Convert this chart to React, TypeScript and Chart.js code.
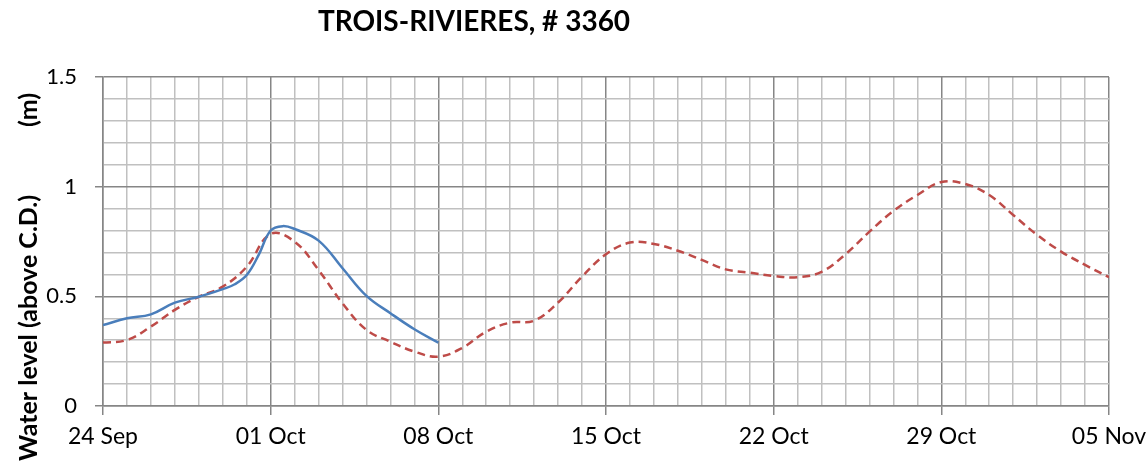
import { useEffect, useRef } from "react";
import { Chart, registerables } from "chart.js";

Chart.register(...registerables);

const titleText = "TROIS-RIVIERES, # 3360";
const yTitleMain = "Water level (above C.D.)";
const yTitleUnit = "(m)";
const xTickLabels = ["24 Sep", "01 Oct", "08 Oct", "15 Oct", "22 Oct", "29 Oct", "05 Nov"];
const yTickLabels = ["0", "0.5", "1", "1.5"];

// days since 24 Sep
const observedDays = [0, 1, 2, 3, 4, 5, 5.5, 6, 6.5, 7, 7.5, 8, 9, 10, 11, 12, 13, 14];
const observedLevels = [0.369, 0.4, 0.418, 0.471, 0.498, 0.533, 0.555, 0.597, 0.689, 0.8, 0.82, 0.807, 0.754, 0.628, 0.502, 0.423, 0.35, 0.289];

const predictedDays = [0, 1, 2, 3, 4, 5, 6, 7, 8, 9, 10, 11, 12, 13, 14, 15, 16, 17, 18, 19, 20, 21, 22, 23, 24, 25, 26, 27, 28, 29, 30, 31, 32, 33, 34, 35, 36, 37, 38, 39, 40, 41, 42];
const predictedLevels = [0.289, 0.301, 0.362, 0.438, 0.498, 0.544, 0.635, 0.784, 0.749, 0.62, 0.468, 0.347, 0.293, 0.248, 0.225, 0.265, 0.339, 0.38, 0.389, 0.472, 0.59, 0.692, 0.745, 0.739, 0.708, 0.666, 0.623, 0.608, 0.593, 0.587, 0.612, 0.692, 0.795, 0.889, 0.962, 1.021, 1.012, 0.962, 0.871, 0.78, 0.704, 0.643, 0.587];

const FONT = "Lato";
const MAJOR = "#868686";
const MINOR = "#C0C0C0";

const textPlugin = {
  id: "textPlugin",
  afterDraw(chart: any) {
    const ctx = chart.ctx;
    ctx.save();
    ctx.fillStyle = "#000";
    ctx.font = `bold 28px ${FONT}`;
    ctx.textAlign = "center";
    ctx.textBaseline = "alphabetic";
    ctx.fillText(titleText, 474, 31);
    ctx.translate(37, 0);
    ctx.rotate(-Math.PI / 2);
    ctx.textAlign = "left";
    ctx.font = `bold 25px ${FONT}`;
    ctx.fillText(yTitleMain, -461, 0);
    ctx.fillText(yTitleUnit, -127, 0);
    ctx.restore();
  },
};

const isMajorX = (v: number) => Math.round(v) % 7 === 0;
const isMajorY = (v: number) => Math.round(v * 10) % 5 === 0;

export default function App() {
  const ref = useRef<HTMLCanvasElement>(null);
  useEffect(() => {
    if (!ref.current) return;
    const chart = new Chart(ref.current, {
      type: "line",
      data: {
        datasets: [
          {
            label: "Observed",
            data: observedDays.map((d, i) => ({ x: d, y: observedLevels[i] })),
            borderColor: "#4A7EBB",
            borderWidth: 2.5,
            pointRadius: 0,
            tension: 0.4,
            fill: false,
          },
          {
            label: "Predicted",
            data: predictedDays.map((d, i) => ({ x: d, y: predictedLevels[i] })),
            borderColor: "#BE4B48",
            borderWidth: 2.5,
            borderDash: [8, 5],
            pointRadius: 0,
            tension: 0.4,
            fill: false,
          },
        ],
      },
      options: {
        responsive: false,
        animation: false,
        events: [],
        layout: { padding: { top: 77, right: 39, left: 0, bottom: 0 } },
        plugins: { legend: { display: false }, title: { display: false }, tooltip: { enabled: false } },
        scales: {
          x: {
            type: "linear",
            min: 0,
            max: 42,
            afterFit: (s: any) => {
              s.height = 55;
              s.paddingLeft = 0;
              s.paddingRight = 0;
            },
            ticks: {
              stepSize: 1,
              autoSkip: false,
              maxRotation: 0,
              minRotation: 0,
              maxTicksLimit: 100,
              padding: 8,
              color: "#000",
              font: { family: FONT, size: 23 },
              callback: (v: any) => (isMajorX(v) ? xTickLabels[Math.round(v) / 7] : ""),
            },
            grid: {
              color: (c: any) => (c.tick && isMajorX(c.tick.value) ? MAJOR : MINOR),
              lineWidth: 1.5,
              tickLength: 9,
              tickColor: (c: any) => (c.tick && isMajorX(c.tick.value) ? MAJOR : "rgba(0,0,0,0)"),
            },
            border: { color: MAJOR, width: 1.5 },
          },
          y: {
            type: "linear",
            min: 0,
            max: 1.5,
            afterFit: (s: any) => {
              s.width = 103;
              s.paddingTop = 0;
              s.paddingBottom = 0;
            },
            ticks: {
              stepSize: 0.1,
              autoSkip: false,
              maxTicksLimit: 100,
              padding: 18,
              color: "#000",
              font: { family: FONT, size: 22 },
              callback: (v: any) => (isMajorY(v) ? yTickLabels[Math.round(v * 2)] : ""),
            },
            grid: {
              color: (c: any) => (c.tick && isMajorY(c.tick.value) ? MAJOR : MINOR),
              lineWidth: 1.5,
              tickLength: 8,
              tickColor: (c: any) => (c.tick && isMajorY(c.tick.value) ? MAJOR : "rgba(0,0,0,0)"),
            },
            border: { color: MAJOR, width: 1.5 },
          },
        },
      },
      plugins: [textPlugin],
    });
    return () => chart.destroy();
  }, []);
  return (
    <div style={{ position: "absolute", left: 0, top: 0, width: 1148, height: 461, background: "#fff" }}>
      <canvas ref={ref} width={1148} height={461} />
    </div>
  );
}
